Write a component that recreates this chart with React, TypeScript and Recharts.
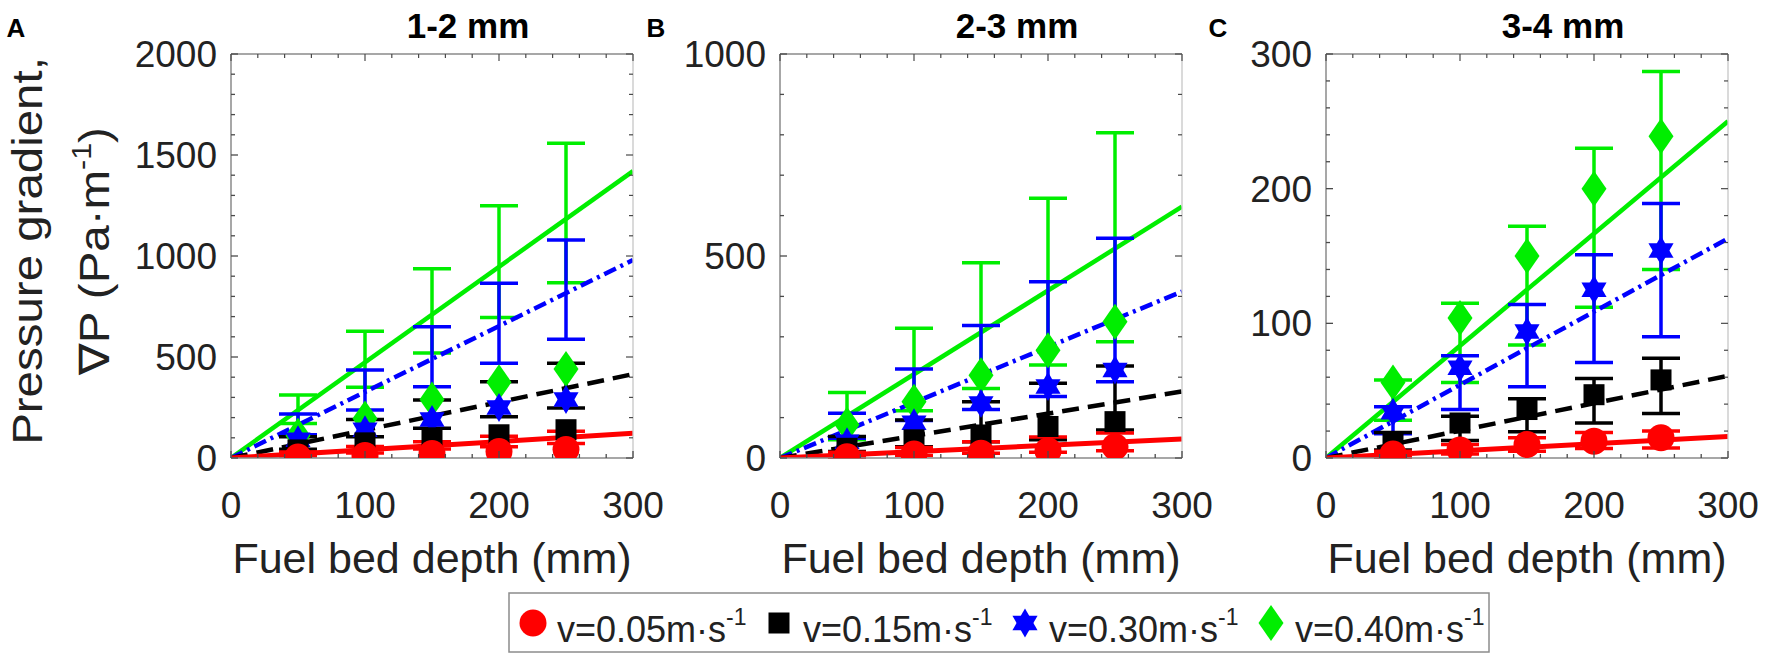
import React from 'react';
import { ComposedChart, Line, Scatter, XAxis, YAxis, ErrorBar } from 'recharts';

// ---------------- data ----------------
const depths = [50, 100, 150, 200, 250];
const xTicks = [0, 20, 40, 60, 80, 100, 120, 140, 160, 180, 200, 220, 240, 260, 280, 300];
const fitX = [0, 300];

const titles = ['1-2 mm', '2-3 mm', '3-4 mm'];
const letters = ['A', 'B', 'C'];
const legendLabels = ['v=0.05m\u00b7s', 'v=0.15m\u00b7s', 'v=0.30m\u00b7s', 'v=0.40m\u00b7s'];

// Panel A (1-2 mm)
const yTicksA = [0, 100, 200, 300, 400, 500, 600, 700, 800, 900, 1000, 1100, 1200, 1300, 1400, 1500, 1600, 1700, 1800, 1900, 2000];
const redA = [5, 12, 22, 32, 42];
const blackA = [40, 75, 100, 115, 140];
const blueA = [90, 140, 190, 250, 290];
const greenA = [110, 195, 290, 375, 440];
const redLoA = [10, 25, 45, 56, 72];
const redHiA = [30, 57, 80, 108, 132];
const blackLoA = [43, 105, 147, 204, 248];
const blackHiA = [105, 191, 287, 378, 469];
const blueLoA = [115, 238, 353, 469, 588];
const blueHiA = [218, 436, 650, 865, 1079];
const greenLoA = [171, 350, 520, 696, 868];
const greenHiA = [312, 628, 937, 1249, 1558];
const fitEndA = [122, 415, 980, 1420]; // red, black, blue, green at 300 mm

// Panel B (2-3 mm)
const yTicksB = [0, 100, 200, 300, 400, 500, 600, 700, 800, 900, 1000];
const redB = [3, 10, 12, 18, 28];
const blackB = [24, 45, 57, 78, 90];
const blueB = [40, 87, 135, 177, 218];
const greenB = [82, 139, 205, 267, 337];
const redLoB = [2, 6, 12, 14, 18];
const redHiB = [14, 26, 40, 52, 62];
const blackLoB = [16, 28, 40, 45, 69];
const blackHiB = [53, 94, 139, 185, 228];
const blueLoB = [49, 93, 120, 152, 189];
const blueHiB = [111, 220, 328, 436, 544];
const greenLoB = [45, 117, 172, 230, 288];
const greenHiB = [162, 321, 483, 643, 805];
const fitEndB = [47, 165, 412, 622];

// Panel C (3-4 mm)
const yTicksC = [0, 20, 40, 60, 80, 100, 120, 140, 160, 180, 200, 220, 240, 260, 280, 300];
const redC = [3, 6, 10, 12.5, 15];
const blackC = [12, 26, 36, 47, 58];
const blueC = [34, 67, 94, 125, 154];
const greenC = [56, 104, 150, 200, 239];
const redLoC = [0.5, 3, 5, 7, 7.5];
const redHiC = [5, 10, 15, 19, 20];
const blackLoC = [6, 13, 19.5, 26, 33];
const blackHiC = [19, 31, 44, 59, 74];
const blueLoC = [18, 36, 53, 71, 90];
const blueHiC = [38, 76, 114, 151, 189];
const greenLoC = [28, 56, 84, 112, 140];
const greenHiC = [58, 115, 172, 230, 287];
const fitEndC = [16, 61, 163, 250];

// ---------------- style ----------------
const FONT = '"Liberation Sans", Arial, Helvetica, sans-serif';
const AX = '#8a8a8a';
const AX_LIGHT = '#c6c6c6';
const TK = '#4a4a4a';
const TXT = '#222222';
const COLORS = ['#ff0000', '#000000', '#0000ff', '#00ee00'];
const MARKERS = ['circle', 'square', 'hexagram', 'diamond'];
const DASHES = [undefined, '17 9', '13 5 3 5', undefined];
const LINE_W = [5, 4.5, 4.5, 4.5];

const PLOT_LEFTS = [231, 780, 1326];
const PLOT_TOP = 54;
const PLOT_W = 402;
const PLOT_H = 404;
const YAXIS_W = 120;
const RIGHT_PAD = 34;

function drawMarker(kind: string, cx: number, cy: number, color: string) {
  if (kind === 'circle') return <circle cx={cx} cy={cy} r={13.5} fill={color} />;
  if (kind === 'square') return <rect x={cx - 10.5} y={cy - 10.5} width={21} height={21} fill={color} />;
  if (kind === 'hexagram') {
    const R = 14.5;
    const a = R * 0.866;
    const up = `${cx},${cy - R} ${cx + a},${cy + R / 2} ${cx - a},${cy + R / 2}`;
    const dn = `${cx},${cy + R} ${cx + a},${cy - R / 2} ${cx - a},${cy - R / 2}`;
    return (
      <g>
        <polygon points={up} fill={color} />
        <polygon points={dn} fill={color} />
      </g>
    );
  }
  return <polygon points={`${cx},${cy - 18} ${cx + 12.5},${cy} ${cx},${cy + 18} ${cx - 12.5},${cy}`} fill={color} />;
}

function makeBottomTick(p: any) {
  const { x, y, payload } = p;
  const v = payload.value;
  const major = v % 100 === 0;
  return (
    <g>
      <line x1={x} x2={x} y1={y} y2={y - (major ? 7 : 4)} stroke={TK} strokeWidth={1.3} />
      {major && (
        <text x={x} y={y + 60} textAnchor="middle" fontSize={37} fontFamily={FONT} fill={TXT}>
          {v}
        </text>
      )}
    </g>
  );
}

function makeTopTick(p: any) {
  const { x, y, payload } = p;
  const major = payload.value % 100 === 0;
  return <line x1={x} x2={x} y1={y} y2={y + (major ? 7 : 4)} stroke={TK} strokeWidth={1.2} />;
}

function makeLeftTick(step: number) {
  return (p: any) => {
    const { x, y, payload } = p;
    const v = payload.value;
    const major = v % step === 0;
    return (
      <g>
        <line x1={x} x2={x + (major ? 7 : 4)} y1={y} y2={y} stroke={TK} strokeWidth={1.3} />
        {major && (
          <text x={x - 14} y={y + 13} textAnchor="end" fontSize={37} fontFamily={FONT} fill={TXT}>
            {v}
          </text>
        )}
      </g>
    );
  };
}

function makeRightTick(step: number) {
  return (p: any) => {
    const { x, y, payload } = p;
    const major = payload.value % step === 0;
    return <line x1={x} x2={x - (major ? 7 : 4)} y1={y} y2={y} stroke={TK} strokeWidth={1.2} />;
  };
}

type PanelProps = {
  idx: number;
  yMax: number;
  yTicks: number[];
  yStep: number;
  means: number[][];
  los: number[][];
  his: number[][];
  fitEnds: number[];
};

function Panel({ idx, yMax, yTicks, yStep, means, los, his, fitEnds }: PanelProps) {
  const order = [3, 2, 1, 0]; // green, blue, black, red
  const children: any[] = [];
  order.forEach((s) => {
    const errData = depths.map((x, i) => ({ x, y: (los[s][i] + his[s][i]) / 2, err: (his[s][i] - los[s][i]) / 2 }));
    const ptData = depths.map((x, i) => ({ x, y: means[s][i] }));
    const lineData = fitX.map((x) => ({ x, y: (fitEnds[s] * x) / 300 }));
    children.push(
      <Scatter key={`e${s}`} data={errData} dataKey="y" isAnimationActive={false} shape={() => <g />}>
        <ErrorBar dataKey="err" direction="y" width={19} stroke={COLORS[s]} strokeWidth={3.5} isAnimationActive={false} />
      </Scatter>
    );
    children.push(
      <Scatter
        key={`m${s}`}
        data={ptData}
        dataKey="y"
        isAnimationActive={false}
        shape={(p: any) => drawMarker(MARKERS[s], p.cx, p.cy, COLORS[s])}
      />
    );
    children.push(
      <Line
        key={`l${s}`}
        data={lineData}
        dataKey="y"
        type="linear"
        stroke={COLORS[s]}
        strokeWidth={LINE_W[s]}
        strokeDasharray={DASHES[s]}
        dot={false}
        activeDot={false}
        isAnimationActive={false}
      />
    );
  });
  return (
    <div style={{ position: 'absolute', left: PLOT_LEFTS[idx] - YAXIS_W, top: 0 }}>
      <ComposedChart
        width={YAXIS_W + PLOT_W + 1 + RIGHT_PAD}
        height={590}
        margin={{ top: PLOT_TOP - 1, right: RIGHT_PAD, bottom: 0, left: 0 }}
        style={{ overflow: 'visible' }}
      >
        <XAxis
          dataKey="x"
          type="number"
          domain={[0, 300]}
          ticks={xTicks}
          interval={0}
          allowDataOverflow
          height={590 - PLOT_TOP - PLOT_H}
          tickSize={0}
          tickMargin={0}
          tickLine={false}
          tick={makeBottomTick}
          axisLine={{ stroke: AX, strokeWidth: 1.5 }}
        />
        <XAxis
          xAxisId="t"
          orientation="top"
          dataKey="x"
          type="number"
          domain={[0, 300]}
          ticks={xTicks}
          interval={0}
          allowDataOverflow
          height={1}
          tickSize={0}
          tickMargin={0}
          tickLine={false}
          tick={makeTopTick}
          axisLine={{ stroke: AX, strokeWidth: 1.3 }}
        />
        <YAxis
          dataKey="y"
          type="number"
          domain={[0, yMax]}
          ticks={yTicks}
          interval={0}
          allowDataOverflow
          width={YAXIS_W}
          tickSize={0}
          tickMargin={0}
          tickLine={false}
          tick={makeLeftTick(yStep)}
          axisLine={{ stroke: AX, strokeWidth: 1.5 }}
        />
        <YAxis
          yAxisId="r"
          orientation="right"
          dataKey="y"
          type="number"
          domain={[0, yMax]}
          ticks={yTicks}
          interval={0}
          allowDataOverflow
          width={1}
          tickSize={0}
          tickMargin={0}
          tickLine={false}
          tick={makeRightTick(yStep)}
          axisLine={{ stroke: AX_LIGHT, strokeWidth: 1.3 }}
        />
        {children}
      </ComposedChart>
    </div>
  );
}

function Overlay() {
  const legendX = [533, 779, 1025, 1271];
  return (
    <svg width={1772} height={661} style={{ position: 'absolute', left: 0, top: 0, pointerEvents: 'none' }}>
      {letters.map((l, i) => (
        <text key={l} x={[16, 656, 1218][i]} y={37} textAnchor="middle" fontSize={26} fontWeight="bold" fontFamily={FONT} fill="#000">
          {l}
        </text>
      ))}
      {titles.map((t, i) => (
        <text key={t} x={PLOT_LEFTS[i] + 237} y={38} textAnchor="middle" fontSize={35} fontWeight="bold" fontFamily={FONT} fill="#000">
          {t}
        </text>
      ))}
      {PLOT_LEFTS.map((pl, i) => (
        <text key={i} x={pl + PLOT_W / 2} y={573} textAnchor="middle" fontSize={43} fontFamily={FONT} fill={TXT}>
          Fuel bed depth (mm)
        </text>
      ))}
      <text transform="translate(42,251) scale(1,1.13) rotate(-90)" textAnchor="middle" fontSize={42} fontFamily={FONT} fill={TXT}>
        Pressure gradient,
      </text>
      <text transform="translate(109,251) scale(1,1.13) rotate(-90)" textAnchor="middle" fontSize={42} fontFamily={FONT} fill={TXT}>
        {'\u2207P (Pa\u00b7m'}
        <tspan dy={-18} fontSize={27}>-1</tspan>
        <tspan dy={18}>)</tspan>
      </text>
      <rect x={509} y={593} width={980} height={59} fill="#fff" stroke="#8c8c8c" strokeWidth={1.5} />
      {legendLabels.map((lab, i) => (
        <g key={lab}>
          {drawMarker(MARKERS[i], legendX[i], 623, COLORS[i])}
          <text x={legendX[i] + 24} y={642} fontSize={36} fontFamily={FONT} fill={TXT}>
            {lab}
            <tspan dy={-17} fontSize={23}>-1</tspan>
          </text>
        </g>
      ))}
    </svg>
  );
}

export default function App() {
  return (
    <div style={{ position: 'absolute', left: 0, top: 0, width: 1772, height: 661, background: '#fff', overflow: 'hidden' }}>
      <Panel
        idx={0}
        yMax={2000}
        yTicks={yTicksA}
        yStep={500}
        means={[redA, blackA, blueA, greenA]}
        los={[redLoA, blackLoA, blueLoA, greenLoA]}
        his={[redHiA, blackHiA, blueHiA, greenHiA]}
        fitEnds={fitEndA}
      />
      <Panel
        idx={1}
        yMax={1000}
        yTicks={yTicksB}
        yStep={500}
        means={[redB, blackB, blueB, greenB]}
        los={[redLoB, blackLoB, blueLoB, greenLoB]}
        his={[redHiB, blackHiB, blueHiB, greenHiB]}
        fitEnds={fitEndB}
      />
      <Panel
        idx={2}
        yMax={300}
        yTicks={yTicksC}
        yStep={100}
        means={[redC, blackC, blueC, greenC]}
        los={[redLoC, blackLoC, blueLoC, greenLoC]}
        his={[redHiC, blackHiC, blueHiC, greenHiC]}
        fitEnds={fitEndC}
      />
      <Overlay />
    </div>
  );
}
